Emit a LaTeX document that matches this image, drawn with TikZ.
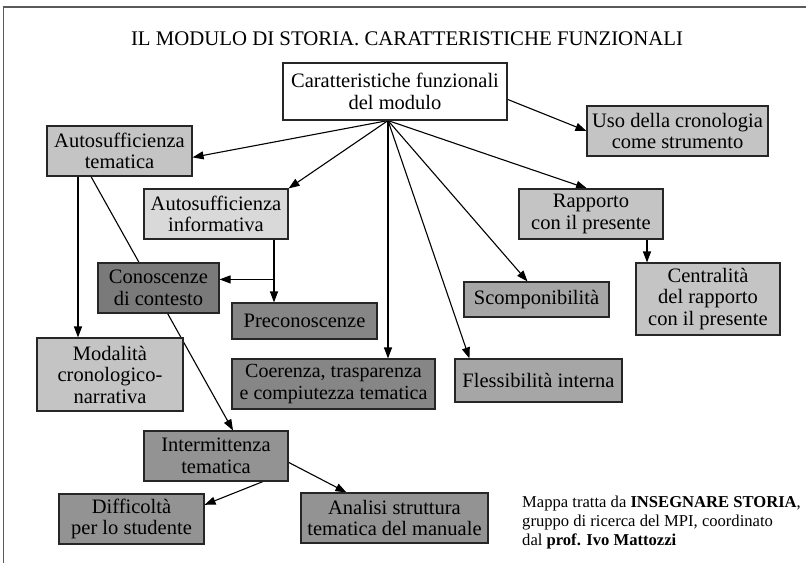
\documentclass[tikz,border=0pt]{standalone}
\usepackage{fontspec}
\setmainfont{Liberation Serif}
\usepackage{tikz}
\usetikzlibrary{arrows.meta}
\usetikzlibrary{backgrounds}
\definecolor{tonePale}{HTML}{D9D9D9}
\definecolor{toneLight}{HTML}{C4C4C4}
\definecolor{toneMid}{HTML}{A6A6A6}
\definecolor{toneDark}{HTML}{939393}
\definecolor{toneDeep}{HTML}{868686}
\definecolor{toneDeeper}{HTML}{7A7A7A}
\definecolor{frameGray}{HTML}{5A5A5A}
\tikzset{
    box/.style={ % Sets the properties for each concept box
        draw=black!85,
        line width=1.1pt,
        align=center,
        inner sep=1pt,
        font=\fontsize{20.5}{21.5}\selectfont
    },
    link/.style={ % Sets the properties for each arrow
        draw,
        line width=1.1pt,
        -{Triangle[length=11pt,width=8pt]}
    }
}

\begin{document}
\begin{tikzpicture}[x=1pt, y=-1pt]
    \useasboundingbox (0,0) rectangle (806,563);
    \draw[frameGray, line width=1.6pt] (3.5,563) -- (3.5,7) -- (806,7);

    \node[font=\fontsize{20.8}{22}\selectfont] (title) at (407,38.5) {IL MODULO DI STORIA. CARATTERISTICHE FUNZIONALI};

    \node[box, fill=white, minimum width=224, minimum height=57] (root) at (395,91.5) {Caratteristiche funzionali\\del modulo};
    \node[box, fill=toneLight, minimum width=181, minimum height=50] (uso) at (677.5,131) {Uso della cronologia\\come strumento};
    \node[box, fill=toneLight, minimum width=145, minimum height=50] (autotem) at (119.5,151) {Autosufficienza\\tematica};
    \node[box, fill=tonePale, minimum width=144, minimum height=50] (autoinf) at (216,214) {Autosufficienza\\informativa};
    \node[box, fill=toneLight, minimum width=144, minimum height=50] (rapporto) at (591,214) {Rapporto\\con il presente};
    \node[box, fill=toneDeeper, minimum width=121, minimum height=50] (conoscenze) at (158.5,288) {Conoscenze\\di contesto};
    \node[box, fill=toneDeep, minimum width=145, minimum height=36] (precon) at (304.5,321) {Preconoscenze};
    \node[box, fill=toneMid, minimum width=145, minimum height=35] (scomp) at (536.5,299.5) {Scomponibilità};
    \node[box, fill=toneLight, minimum width=144, minimum height=72] (centralita) at (708,299) {Centralità\\del rapporto\\con il presente};
    \node[box, fill=toneLight, minimum width=146, minimum height=73] (modalita) at (110,374.5) {Modalità\\cronologico-\\narrativa};
    \node[box, fill=toneDeep, minimum width=203, minimum height=50, font=\fontsize{20}{21.5}\selectfont] (coerenza) at (333.5,384) {Coerenza, trasparenza\\e compiutezza tematica};
    \node[box, fill=toneMid, minimum width=167, minimum height=43] (flessibilita) at (538.5,380.5) {Flessibilità interna};
    \node[box, fill=toneDark, minimum width=144, minimum height=50] (intermittenza) at (216,456) {Intermittenza\\tematica};
    \node[box, fill=toneDark, minimum width=145, minimum height=50] (difficolta) at (131.5,519) {Difficoltà\\per lo studente};
    \node[box, fill=toneDark, minimum width=187, minimum height=50] (analisi) at (394.5,518) {Analisi struttura\\tematica del manuale};

    \node[anchor=north west, align=left, inner sep=0pt, font=\fontsize{16.6}{19}\selectfont] (caption) at (522,496)
        {Mappa tratta da \textbf{INSEGNARE STORIA},\\gruppo di ricerca del MPI, coordinato\\dal \textbf{prof. Ivo Mattozzi}};

    \coordinate (fan) at ([xshift=-7pt]root.south);
    \coordinate (tl) at ([xshift=-41.5pt]autotem.south);
    \coordinate (ia) at ([xshift=58pt]autoinf.south);
    \coordinate (br) at (ia |- conoscenze.8);
    \coordinate (rp) at ([xshift=56pt]rapporto.south);

    \begin{scope}[on background layer]
        \draw[link] (fan) -- (autotem.-5);
        \draw[link] (fan) -- (autoinf.north east);
        \draw[link] (fan) -- (fan |- coerenza.north);
        \draw[link] (fan) -- ([xshift=-9pt]scomp.north);
        \draw[link] (fan) -- ([xshift=15pt]flessibilita.north west);
        \draw[link] (fan) -- ([xshift=-4pt]rapporto.north);
        \draw[link] (root.-4) -- (uso.west);

        \draw[link] (tl) -- (tl |- modalita.north);
        \draw[link] ([xshift=-28.5pt]autotem.south) -- ([xshift=17pt]intermittenza.north);

        \draw[line width=1.1pt] (ia) -- (br);
        \draw[link] (br) -- (conoscenze.8);
        \draw[link] (br) -- (br |- precon.north);

        \draw[link] (rp) -- (rp |- centralita.north);

        \draw[link] ([xshift=47pt]intermittenza.south) -- (difficolta.11);
        \draw[link] (intermittenza.-5) -- ([xshift=46pt]analisi.north west);
    \end{scope}
\end{tikzpicture}
\end{document}
